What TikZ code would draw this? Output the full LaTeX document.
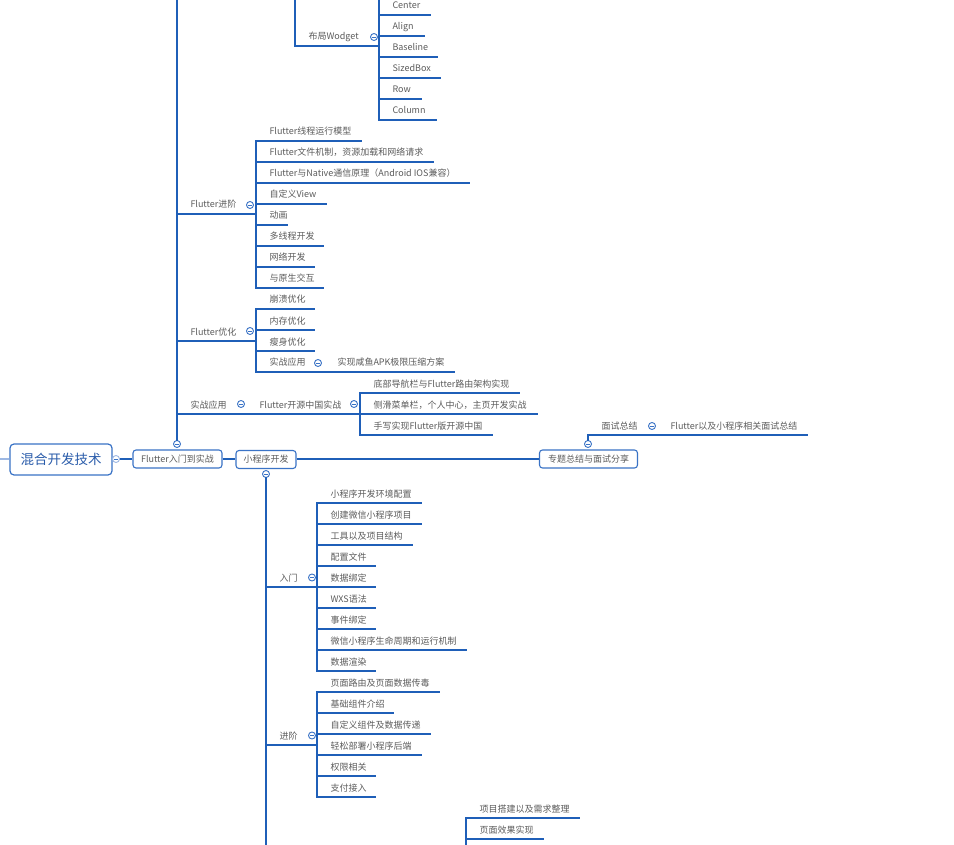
\documentclass[tikz,border=0pt]{standalone}
\usepackage{fontspec}
\setmainfont{Noto Sans CJK SC}
\definecolor{lblue}{HTML}{1F5FB8}
\definecolor{tgray}{HTML}{5C5C5C}
\definecolor{bblue}{HTML}{3A73C6}
\definecolor{pale}{HTML}{9DB8E3}
\definecolor{ttl}{HTML}{2A5CAA}
\tikzset{
 uline/.style={draw=lblue, line width=1.2pt, line cap=rect},
 leaf/.style={anchor=south west, inner xsep=13.5pt, inner ysep=4pt, outer sep=0pt, text height=7pt, text depth=2pt, font=\fontsize{9}{10}\selectfont, text=tgray},
 coll/.style={circle, draw=bblue, fill=white, line width=0.9pt, minimum size=7pt, inner sep=0pt, path picture={\draw[bblue, line width=0.8pt] ([xshift=-2pt]path picture bounding box.center) -- ([xshift=2pt]path picture bounding box.center);}},
 topic/.style={draw=bblue, line width=1.1pt, rounded corners=3pt, fill=white, text=tgray, font=\fontsize{9}{10}\selectfont, inner sep=0pt},
 trunk/.style={draw=lblue, line width=2.2pt},
}
\newcommand\lf[5]{\node[leaf] (#1) at (#2,#3) {#5}; \draw[uline] (#1.south west) -- ++(#4,0);}
\begin{document}
\begin{tikzpicture}[x=1pt,y=-1pt]
\fill[white] (0,0) rectangle (954,845);
\useasboundingbox (0,0) rectangle (954,845);

% ---- top: layout widgets
\coordinate (tA) at (295,0);
\lf{bj}{295}{46}{84}{布局Wodget}
\draw[uline] (tA) -- (bj.south west);
\node[coll] (cbj) at (374,37) {};
\coordinate (tB) at (379,0);
\lf{w1}{379}{15}{51}{Center}
\lf{w2}{379}{36}{45}{Align}
\lf{w3}{379}{57}{58}{Baseline}
\lf{w4}{379}{78}{61}{SizedBox}
\lf{w5}{379}{99}{42}{Row}
\lf{w6}{379}{120}{57}{Column}
\draw[uline] (tB) -- (w6.south west);

% ---- Flutter进阶
\lf{fj}{177}{214}{79}{Flutter进阶}
\node[coll] (cfj) at (250,205) {};
\lf{f1}{256}{141}{105}{Flutter线程运行模型}
\lf{f2}{256}{162}{177}{Flutter文件机制，资源加载和网络请求}
\lf{f3}{256}{183}{213}{Flutter与Native通信原理（Android IOS兼容）}
\lf{f4}{256}{204}{70}{自定义View}
\lf{f5}{256}{225}{31}{动画}
\lf{f6}{256}{246}{67}{多线程开发}
\lf{f7}{256}{267}{58}{网络开发}
\lf{f8}{256}{288}{67}{与原生交互}
\draw[uline] (f1.south west) -- (f8.south west);

% ---- Flutter优化
\lf{fy}{177}{341}{79}{Flutter优化}
\node[coll] (cfy) at (250,331) {};
\lf{y1}{256}{309}{58}{崩溃优化}
\lf{y2}{256}{330}{58}{内存优化}
\lf{y3}{256}{351}{58}{瘦身优化}
\lf{y4}{256}{372}{68}{实战应用}
\node[coll] (cy4) at (318,363) {};
\lf{y5}{324}{372}{130}{实现咸鱼APK极限压缩方案}
\draw[uline] (y1.south west) -- (y4.south west);

% ---- 实战应用
\lf{s1}{177}{414}{69}{实战应用}
\node[coll] (cs1) at (241,404) {};
\lf{s2}{246}{414}{114}{Flutter开源中国实战}
\node[coll] (cs2) at (354,404) {};
\lf{s3}{360}{393}{159}{底部导航栏与Flutter路由架构实现}
\lf{s4}{360}{414}{177}{侧滑菜单栏，个人中心，主页开发实战}
\lf{s5}{360}{435}{132}{手写实现Flutter版开源中国}
\draw[uline] (s3.south west) -- (s5.south west);

% ---- main topics
\coordinate (L) at (0,459);
\node[draw=bblue, line width=1.2pt, rounded corners=4pt, fill=white, minimum width=102pt, minimum height=31pt, inner sep=0pt, text=ttl, font=\fontsize{13.5}{15}\selectfont] (root) at (61,459.5) {混合开发技术};
\node[topic, minimum width=89pt, minimum height=18pt] (fl) at (177.5,459) {Flutter入门到实战};
\node[topic, minimum width=60pt, minimum height=18pt] (xc) at (266,459.5) {小程序开发};
\node[topic, minimum width=98pt, minimum height=18pt] (zt) at (588.5,459) {专题总结与面试分享};
\draw[draw=pale, line width=2pt] (L) -- (L -| root.west);
\draw[trunk] (root.east |- fl.west) -- (fl.west);
\draw[trunk] (fl.east) -- (fl.east -| xc.west);
\draw[trunk] (xc.east |- zt.west) -- (zt.west);
\node[coll, draw=pale] (croot) at (116,459) {};

% trunk of Flutter入门到实战
\coordinate (tC) at (177,0);
\node[coll] (cfl) at (177,444) {};
\draw[uline] (tC) -- (cfl.north);

% ---- 专题总结
\node[coll] (czt) at (588,444) {};
\lf{ms}{588}{435}{69}{面试总结}
\node[coll] (cms) at (652,426) {};
\lf{ms2}{657}{435}{150}{Flutter以及小程序相关面试总结}
\draw[uline] (czt.north) -- (ms.south west);

% ---- 小程序开发
\node[coll] (cxc) at (266,474) {};
\coordinate (xB) at (266,845);
\draw[uline] (cxc.south) -- (xB);

\lf{rm}{266}{587}{51}{入门}
\node[coll] (crm) at (312,577.5) {};
\lf{r1}{317}{503}{104}{小程序开发环境配置}
\lf{r2}{317}{524}{104}{创建微信小程序项目}
\lf{r3}{317}{545}{95}{工具以及项目结构}
\lf{r4}{317}{566}{58}{配置文件}
\lf{r5}{317}{587}{58}{数据绑定}
\lf{r6}{317}{608}{58}{WXS语法}
\lf{r7}{317}{629}{58}{事件绑定}
\lf{r8}{317}{650}{149}{微信小程序生命周期和运行机制}
\lf{r9}{317}{671}{58}{数据渲染}
\draw[uline] (r1.south west) -- (r9.south west);

\lf{jj}{266}{745}{51}{进阶}
\node[coll] (cjj) at (312,735.5) {};
\lf{j1}{317}{692}{122}{页面路由及页面数据传毒}
\lf{j2}{317}{713}{76}{基础组件介绍}
\lf{j3}{317}{734}{113}{自定义组件及数据传递}
\lf{j4}{317}{755}{104}{轻松部署小程序后端}
\lf{j5}{317}{776}{58}{权限相关}
\lf{j6}{317}{797}{58}{支付接入}
\draw[uline] (j1.south west) -- (j6.south west);

% ---- bottom
\coordinate (bB) at (466,845);
\lf{p1}{466}{818}{113}{项目搭建以及需求整理}
\lf{p2}{466}{839}{77}{页面效果实现}
\draw[uline] (p1.south west) -- (bB);
\end{tikzpicture}
\end{document}
